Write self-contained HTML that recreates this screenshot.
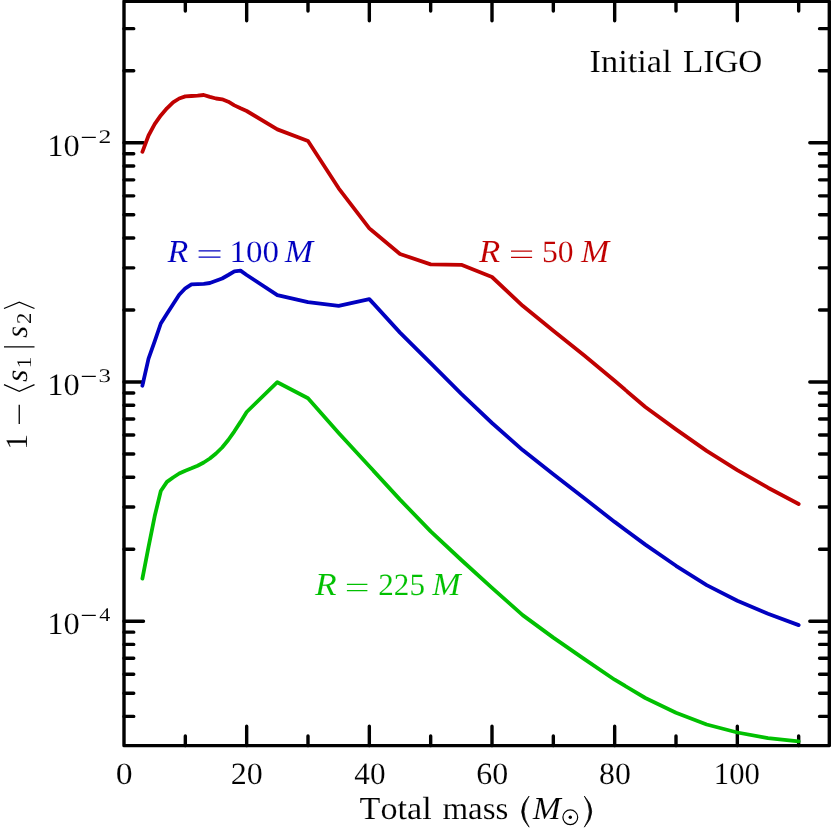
<!DOCTYPE html>
<html lang="en"><head><meta charset="utf-8"><title>Initial LIGO mismatch</title>
<style>html,body{margin:0;padding:0;background:#fff}svg{display:block}text{font-family:"Liberation Serif",serif;font-kerning:none;white-space:pre;stroke:#fff;paint-order:fill stroke;text-rendering:geometricPrecision}</style></head><body>
<svg width="831" height="831" viewBox="0 0 831 831">
<rect width="831" height="831" fill="#fff"/>
<g id="all" opacity="0.999">
<g id="ticks" stroke="#000" stroke-width="3.4" stroke-linecap="round" fill="none">
<path d="M185.33 745.65v-9.75M185.33 1.20v9.75M246.67 745.65v-19.5M246.67 1.20v19.5M308.00 745.65v-9.75M308.00 1.20v9.75M369.33 745.65v-19.5M369.33 1.20v19.5M430.67 745.65v-9.75M430.67 1.20v9.75M492.00 745.65v-19.5M492.00 1.20v19.5M553.33 745.65v-9.75M553.33 1.20v9.75M614.67 745.65v-19.5M614.67 1.20v19.5M676.00 745.65v-9.75M676.00 1.20v9.75M737.33 745.65v-19.5M737.33 1.20v19.5M798.67 745.65v-9.75M798.67 1.20v9.75M124.00 716.39h9.75M829.30 716.39h-9.75M124.00 693.21h9.75M829.30 693.21h-9.75M124.00 674.27h9.75M829.30 674.27h-9.75M124.00 658.25h9.75M829.30 658.25h-9.75M124.00 644.38h9.75M829.30 644.38h-9.75M124.00 632.15h9.75M829.30 632.15h-9.75M124.00 621.20h19.5M829.30 621.20h-19.5M124.00 549.19h9.75M829.30 549.19h-9.75M124.00 507.07h9.75M829.30 507.07h-9.75M124.00 477.19h9.75M829.30 477.19h-9.75M124.00 454.01h9.75M829.30 454.01h-9.75M124.00 435.07h9.75M829.30 435.07h-9.75M124.00 419.05h9.75M829.30 419.05h-9.75M124.00 405.18h9.75M829.30 405.18h-9.75M124.00 392.95h9.75M829.30 392.95h-9.75M124.00 382.00h19.5M829.30 382.00h-19.5M124.00 309.99h9.75M829.30 309.99h-9.75M124.00 267.87h9.75M829.30 267.87h-9.75M124.00 237.99h9.75M829.30 237.99h-9.75M124.00 214.81h9.75M829.30 214.81h-9.75M124.00 195.87h9.75M829.30 195.87h-9.75M124.00 179.85h9.75M829.30 179.85h-9.75M124.00 165.98h9.75M829.30 165.98h-9.75M124.00 153.75h9.75M829.30 153.75h-9.75M124.00 142.80h19.5M829.30 142.80h-19.5M124.00 70.79h9.75M829.30 70.79h-9.75M124.00 28.67h9.75M829.30 28.67h-9.75"/>
</g>
<rect id="frame" x="124.0" y="1.2" width="705.30" height="744.45" fill="none" stroke="#000" stroke-width="3.4" stroke-linejoin="round"/>
<g id="curves">
<polyline points="142.40,578.60 148.53,546.90 154.67,516.30 160.80,491.00 166.93,481.90 173.07,477.50 179.20,473.50 185.33,470.70 191.47,468.30 197.60,465.70 203.73,462.50 209.87,458.50 216.00,453.50 222.13,447.50 228.27,440.00 234.40,431.30 240.53,421.90 246.67,412.00 277.33,382.20 308.00,398.30 338.67,433.00 369.33,466.30 400.00,499.60 430.67,531.40 461.33,560.00 492.00,587.80 522.67,615.10 553.33,637.60 584.00,658.90 614.67,679.70 645.33,698.00 676.00,712.70 706.67,724.50 737.33,732.50 768.00,738.20 798.67,741.30" fill="none" stroke="#00c000" stroke-width="3.8" stroke-linecap="round" stroke-linejoin="round"/>
<polyline points="142.40,385.70 148.53,358.60 154.67,341.30 160.80,323.50 166.93,313.80 173.07,304.30 179.20,294.80 185.33,288.30 191.47,284.30 197.60,284.10 203.73,283.80 209.87,283.00 216.00,280.80 222.13,278.50 228.27,275.00 234.40,271.30 240.53,270.60 246.67,275.00 277.33,295.10 308.00,302.10 338.67,305.80 369.33,299.10 400.00,332.60 430.67,363.20 461.33,393.90 492.00,423.00 522.67,450.10 553.33,474.30 584.00,498.10 614.67,521.90 645.33,544.60 676.00,565.80 706.67,585.10 737.33,600.80 768.00,613.80 798.67,625.10" fill="none" stroke="#0000c0" stroke-width="3.8" stroke-linecap="round" stroke-linejoin="round"/>
<polyline points="142.40,151.80 148.53,135.50 154.67,124.20 160.80,115.40 166.93,108.30 173.07,102.30 179.20,98.50 185.33,96.40 191.47,96.00 197.60,95.60 203.73,95.00 209.87,96.90 216.00,98.50 222.13,99.30 228.27,101.70 234.40,105.40 240.53,108.30 246.67,111.00 277.33,129.40 308.00,141.00 338.67,188.30 369.33,228.40 400.00,254.00 430.67,264.40 461.33,264.80 492.00,277.00 522.67,305.80 553.33,330.70 584.00,355.30 614.67,380.80 645.33,407.00 676.00,429.40 706.67,450.90 737.33,470.20 768.00,487.70 798.67,504.00" fill="none" stroke="#c00000" stroke-width="3.8" stroke-linecap="round" stroke-linejoin="round"/>
</g>
<g id="xticklabels">
<text transform="translate(115.66 784.20) scale(1.0884 1)" font-size="31" fill="#000" stroke-width="0.119">0</text>
<text transform="translate(230.86 784.20) scale(1.0331 1)" font-size="31" fill="#000" stroke-width="0.122">20</text>
<text transform="translate(354.32 784.20) scale(1.0064 1)" font-size="31" fill="#000" stroke-width="0.124">40</text>
<text transform="translate(476.23 784.20) scale(1.0320 1)" font-size="31" fill="#000" stroke-width="0.122">60</text>
<text transform="translate(599.05 784.20) scale(1.0266 1)" font-size="31" fill="#000" stroke-width="0.122">80</text>
<text transform="translate(713.83 784.20) scale(0.9907 1)" font-size="31" fill="#000" stroke-width="0.125">100</text>
</g>
<g id="yticklabels">
<text transform="translate(47.14 155.90) scale(1.0482 1)" font-size="31" fill="#000" stroke-width="0.121">10</text>
<path d="M81.8 137.40H95.8" stroke="#000" stroke-width="1.25" fill="none"/>
<text transform="translate(98.47 143.00) scale(1.3313 1)" font-size="19.3" fill="#000" stroke-width="0.067">2</text>
<text transform="translate(47.14 394.90) scale(1.0482 1)" font-size="31" fill="#000" stroke-width="0.121">10</text>
<path d="M81.8 376.40H95.8" stroke="#000" stroke-width="1.25" fill="none"/>
<text transform="translate(98.41 382.00) scale(1.2919 1)" font-size="19.3" fill="#000" stroke-width="0.068">3</text>
<text transform="translate(47.14 633.90) scale(1.0482 1)" font-size="31" fill="#000" stroke-width="0.121">10</text>
<path d="M81.8 615.40H95.8" stroke="#000" stroke-width="1.25" fill="none"/>
<text transform="translate(99.17 621.00) scale(1.1481 1)" font-size="19.3" fill="#000" stroke-width="0.072">4</text>
</g>
<g id="annot">
<text transform="translate(589.56 71.60) scale(1.0747 1)" font-size="32" fill="#000" stroke-width="0.123">Initial</text>
<text transform="translate(683.04 71.60) scale(1.0379 1)" font-size="32" fill="#000" stroke-width="0.126">LIGO</text>
</g>
<g fill="#0000c0">
<text transform="translate(167.48 261.80) scale(1.0632 1)" font-size="32" font-style="italic" fill="#0000c0" stroke-width="0.124">R</text>
<path d="M198.6 250.90H220.5M198.6 257.20H220.5" stroke="#0000c0" stroke-width="1.3" fill="none"/>
<text transform="translate(229.40 261.80) scale(1.0659 1)" font-size="31" fill="#0000c0" stroke-width="0.120">100</text>
<text transform="translate(284.70 261.80) scale(1.0632 1)" font-size="32" font-style="italic" fill="#0000c0" stroke-width="0.124">M</text>
</g>
<g fill="#c00000">
<text transform="translate(479.09 262.00) scale(1.0893 1)" font-size="32" font-style="italic" fill="#c00000" stroke-width="0.123">R</text>
<path d="M511.0 251.10H532.1M511.0 257.40H532.1" stroke="#c00000" stroke-width="1.3" fill="none"/>
<text transform="translate(541.96 262.00) scale(1.0208 1)" font-size="31" fill="#c00000" stroke-width="0.123">50</text>
<text transform="translate(581.00 262.00) scale(1.0561 1)" font-size="32" font-style="italic" fill="#c00000" stroke-width="0.125">M</text>
</g>
<g fill="#00c000">
<text transform="translate(314.99 595.30) scale(1.1101 1)" font-size="32" font-style="italic" fill="#00c000" stroke-width="0.121">R</text>
<path d="M346.9 584.40H367.4M346.9 590.70H367.4" stroke="#00c000" stroke-width="1.3" fill="none"/>
<text transform="translate(378.34 595.30) scale(1.0017 1)" font-size="31" fill="#00c000" stroke-width="0.124">225</text>
<text transform="translate(432.20 595.30) scale(1.0632 1)" font-size="32" font-style="italic" fill="#00c000" stroke-width="0.124">M</text>
</g>
<g id="xlabel">
<text transform="translate(359.58 819.40) scale(1.0677 1)" font-size="32" fill="#000" stroke-width="0.124">Total</text>
<text transform="translate(442.41 819.40) scale(1.0310 1)" font-size="32" fill="#000" stroke-width="0.126">mass</text>
<path d="M529.1 796.0Q514.3 811.6 529.1 827.2Q518.9 811.6 529.1 796.0ZM584.3 796.0Q599.1 811.6 584.3 827.2Q594.5 811.6 584.3 796.0Z" fill="#000" stroke="#000" stroke-width="0.7" stroke-linejoin="round"/>
<text transform="translate(532.69 819.40) scale(1.0526 1)" font-size="32" font-style="italic" fill="#000" stroke-width="0.125">M</text>
<circle cx="570.3" cy="817.3" r="7.4" fill="none" stroke="#000" stroke-width="1.2"/>
<circle cx="570.3" cy="817.3" r="1.7" fill="#000"/>
</g>
<g id="ylabel" transform="translate(27.1 447.0) rotate(-90)">
<text transform="translate(-2.77 0.00) scale(1.0171 1)" font-size="31" fill="#000" stroke-width="0.123">1</text>
<path d="M23.1 -7.85H42.2M62.4 -23.1L55.6 -7.85L62.4 7.4M100.2 -23.1V7.4M138.5 -23.1L144.8 -7.85L138.5 7.4" stroke="#000" stroke-width="1.3" fill="none"/>
<text transform="translate(65.11 0.00) scale(1.0235 1)" font-size="31" font-style="italic" fill="#000" stroke-width="0.123">s</text>
<text transform="translate(78.75 3.90) scale(1.1091 1)" font-size="21" fill="#000" stroke-width="0.080">1</text>
<text transform="translate(109.33 0.00) scale(0.9770 1)" font-size="31" font-style="italic" fill="#000" stroke-width="0.125">s</text>
<text transform="translate(123.10 3.90) scale(1.0810 1)" font-size="21" fill="#000" stroke-width="0.081">2</text>
</g>
</g>
</svg></body></html>
